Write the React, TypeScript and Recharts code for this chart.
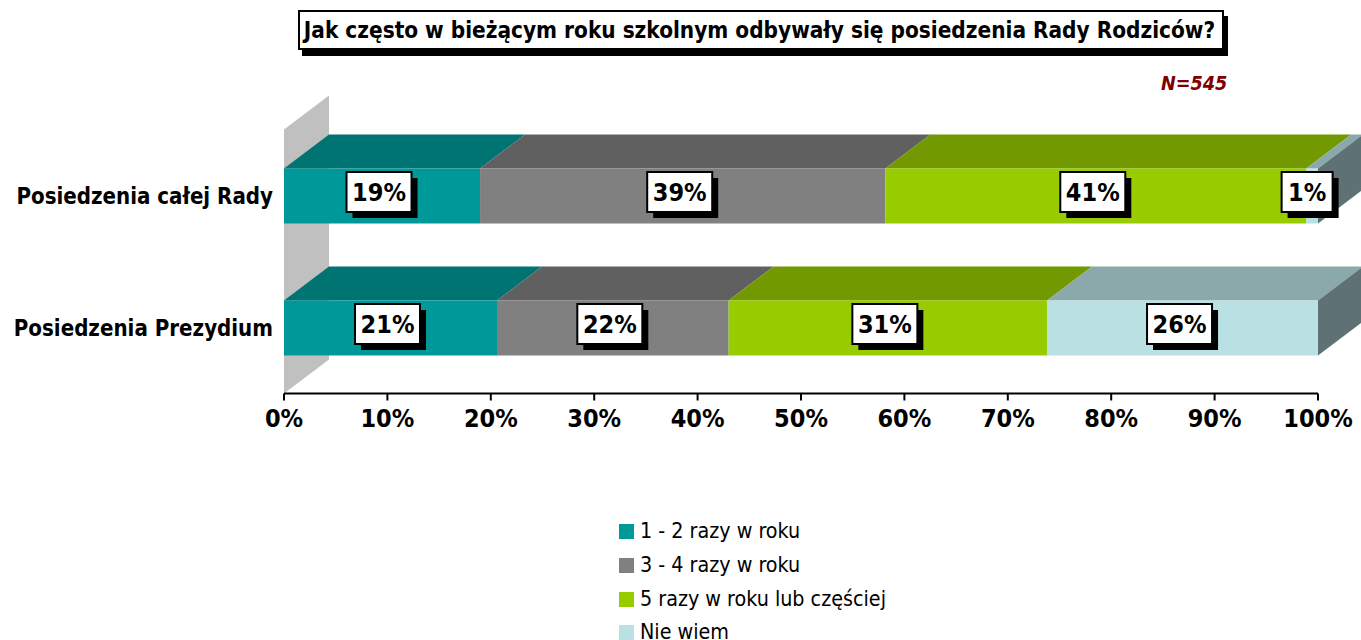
import { Bar, BarChart, LabelList, Legend, ReferenceArea, XAxis, YAxis } from 'recharts';

const FONT = '"DejaVu Sans Condensed", "DejaVu Sans", sans-serif';

const CATEGORIES = ['Posiedzenia całej Rady', 'Posiedzenia Prezydium'];
const XTICKS = [0, 10, 20, 30, 40, 50, 60, 70, 80, 90, 100];

const RARELY = [18.96, 20.6];
const SOMETIMES = [39.2, 22.4];
const OFTEN = [40.7, 30.8];
const UNKNOWN = [1.14, 26.2];

const SERIES_NAMES = ['1 - 2 razy w roku', '3 - 4 razy w roku', '5 razy w roku lub częściej', 'Nie wiem'];
const SERIES_COLORS = ['#009999', '#808080', '#99cc00', '#b9e0e3'];
const TOP_COLORS = ['#007373', '#606060', '#739900', '#8ba8aa'];
const SERIES_VALUES = [RARELY, SOMETIMES, OFTEN, UNKNOWN];

const data = CATEGORIES.map((name, i) => ({
  name,
  s0: RARELY[i],
  s1: SOMETIMES[i],
  s2: OFTEN[i],
  s3: UNKNOWN[i],
}));

// 3d look from the old excel chart
const DX = 45;
const DY = 34;

function Bar3D(props: any) {
  const { x, y, width, height, fill, topFill, last } = props;
  return (
    <g>
      <path d={`M${x},${y} L${x + DX},${y - DY} L${x + width + DX},${y - DY} L${x + width},${y} Z`} fill={topFill} />
      {last ? (
        <path
          d={`M${x + width},${y} L${x + width + DX},${y - DY} L${x + width + DX},${y + height - DY} L${x + width},${y + height} Z`}
          fill="#5e7174"
        />
      ) : null}
      <rect x={x} y={y} width={width} height={height} fill={fill} />
    </g>
  );
}

function Wall(props: any) {
  const { x, y, height } = props;
  return <path d={`M${x},${y} L${x + DX},${y - DY} L${x + DX},${y + height - DY} L${x},${y + height} Z`} fill="#c0c0c0" />;
}

function PercentBox(props: any) {
  const { x, y, width, height, index, series } = props;
  const text = `${Math.round(SERIES_VALUES[series][index])}%`;
  const w = text.length > 2 ? 65 : 51;
  const h = 40;
  const cx = x + width / 2 - (text.length > 2 ? 3 : 5);
  const cy = y + height / 2 - 4;
  return (
    <g>
      <rect x={cx - w / 2 + 6} y={cy - h / 2 + 6} width={w} height={h} fill="#000" />
      <rect x={cx - w / 2} y={cy - h / 2} width={w} height={h} fill="#fff" stroke="#000" strokeWidth={2} />
      <text x={cx} y={cy + 9} textAnchor="middle" fontFamily={FONT} fontWeight="bold" fontSize={25} fill="#000">
        {text}
      </text>
    </g>
  );
}

function LegendList() {
  return (
    <div>
      {SERIES_NAMES.map((name, i) => {
        const isLast = i === SERIES_NAMES.length - 1;
        return (
          <div
            key={name}
            style={{
              display: 'flex',
              alignItems: 'center',
              height: isLast ? 18 : 34,
              marginTop: isLast ? 7 : 0,
              lineHeight: '18px',
              fontFamily: FONT,
              fontSize: 21.3,
              color: '#000',
              whiteSpace: 'nowrap',
            }}
          >
            <span style={{ width: 15, height: 15, marginRight: 6, background: SERIES_COLORS[i] }} />
            {name}
          </div>
        );
      })}
    </div>
  );
}

export default function App() {
  return (
    <div style={{ position: 'absolute', left: 0, top: 0, width: 1361, height: 640, overflow: 'hidden', background: '#fff' }}>
      <BarChart
        width={1361}
        height={640}
        data={data}
        layout="vertical"
        barSize={55}
        margin={{ top: 129.5, right: 43, bottom: 206.5, left: 0 }}
        style={{ overflow: 'hidden' }}
      >
        <ReferenceArea x1={0} x2={100} shape={<Wall />} ifOverflow="visible" />
        <XAxis
          type="number"
          domain={[0, 100]}
          ticks={XTICKS}
          height={40}
          interval={0}
          tickFormatter={(v: number) => `${v}%`}
          tick={{ fontFamily: FONT, fontSize: 25, fontWeight: 'bold', fill: '#000' }}
          tickLine={{ stroke: '#000', strokeWidth: 2 }}
          axisLine={{ stroke: '#000', strokeWidth: 2 }}
          tickSize={7}
          tickMargin={9}
        />
        <YAxis
          type="category"
          dataKey="name"
          width={284}
          axisLine={false}
          tickLine={false}
          tickMargin={5}
          tick={{ fontFamily: FONT, fontSize: 22.1, fontWeight: 'bold', fill: '#000', dy: 1 }}
        />
        {SERIES_NAMES.map((name, i) => (
          <Bar
            key={name}
            dataKey={`s${i}`}
            name={name}
            stackId="a"
            fill={SERIES_COLORS[i]}
            isAnimationActive={false}
            shape={<Bar3D topFill={TOP_COLORS[i]} last={i === SERIES_NAMES.length - 1} />}
          >
            <LabelList content={<PercentBox series={i} />} />
          </Bar>
        ))}
        <Legend
          layout="vertical"
          align="center"
          verticalAlign="middle"
          content={<LegendList />}
          wrapperStyle={{ position: 'absolute', left: 619, top: 514, width: 300 }}
        />
      </BarChart>
      <div
        style={{
          position: 'absolute',
          left: 298,
          top: 10,
          width: 926,
          height: 40,
          boxSizing: 'border-box',
          border: '2px solid #000',
          boxShadow: '4px 6px 0 #000',
          background: '#fff',
          fontFamily: FONT,
          fontWeight: 'bold',
          fontSize: 22.4,
          lineHeight: '36px',
          textAlign: 'center',
          whiteSpace: 'nowrap',
          paddingRight: 3,
        }}
      >
        Jak często w bieżącym roku szkolnym odbywały się posiedzenia Rady Rodziców?
      </div>
      <div
        style={{
          position: 'absolute',
          left: 1161,
          top: 72,
          fontFamily: FONT,
          fontWeight: 'bold',
          fontStyle: 'italic',
          fontSize: 19.6,
          color: '#800000',
        }}
      >
        N=545
      </div>
    </div>
  );
}
